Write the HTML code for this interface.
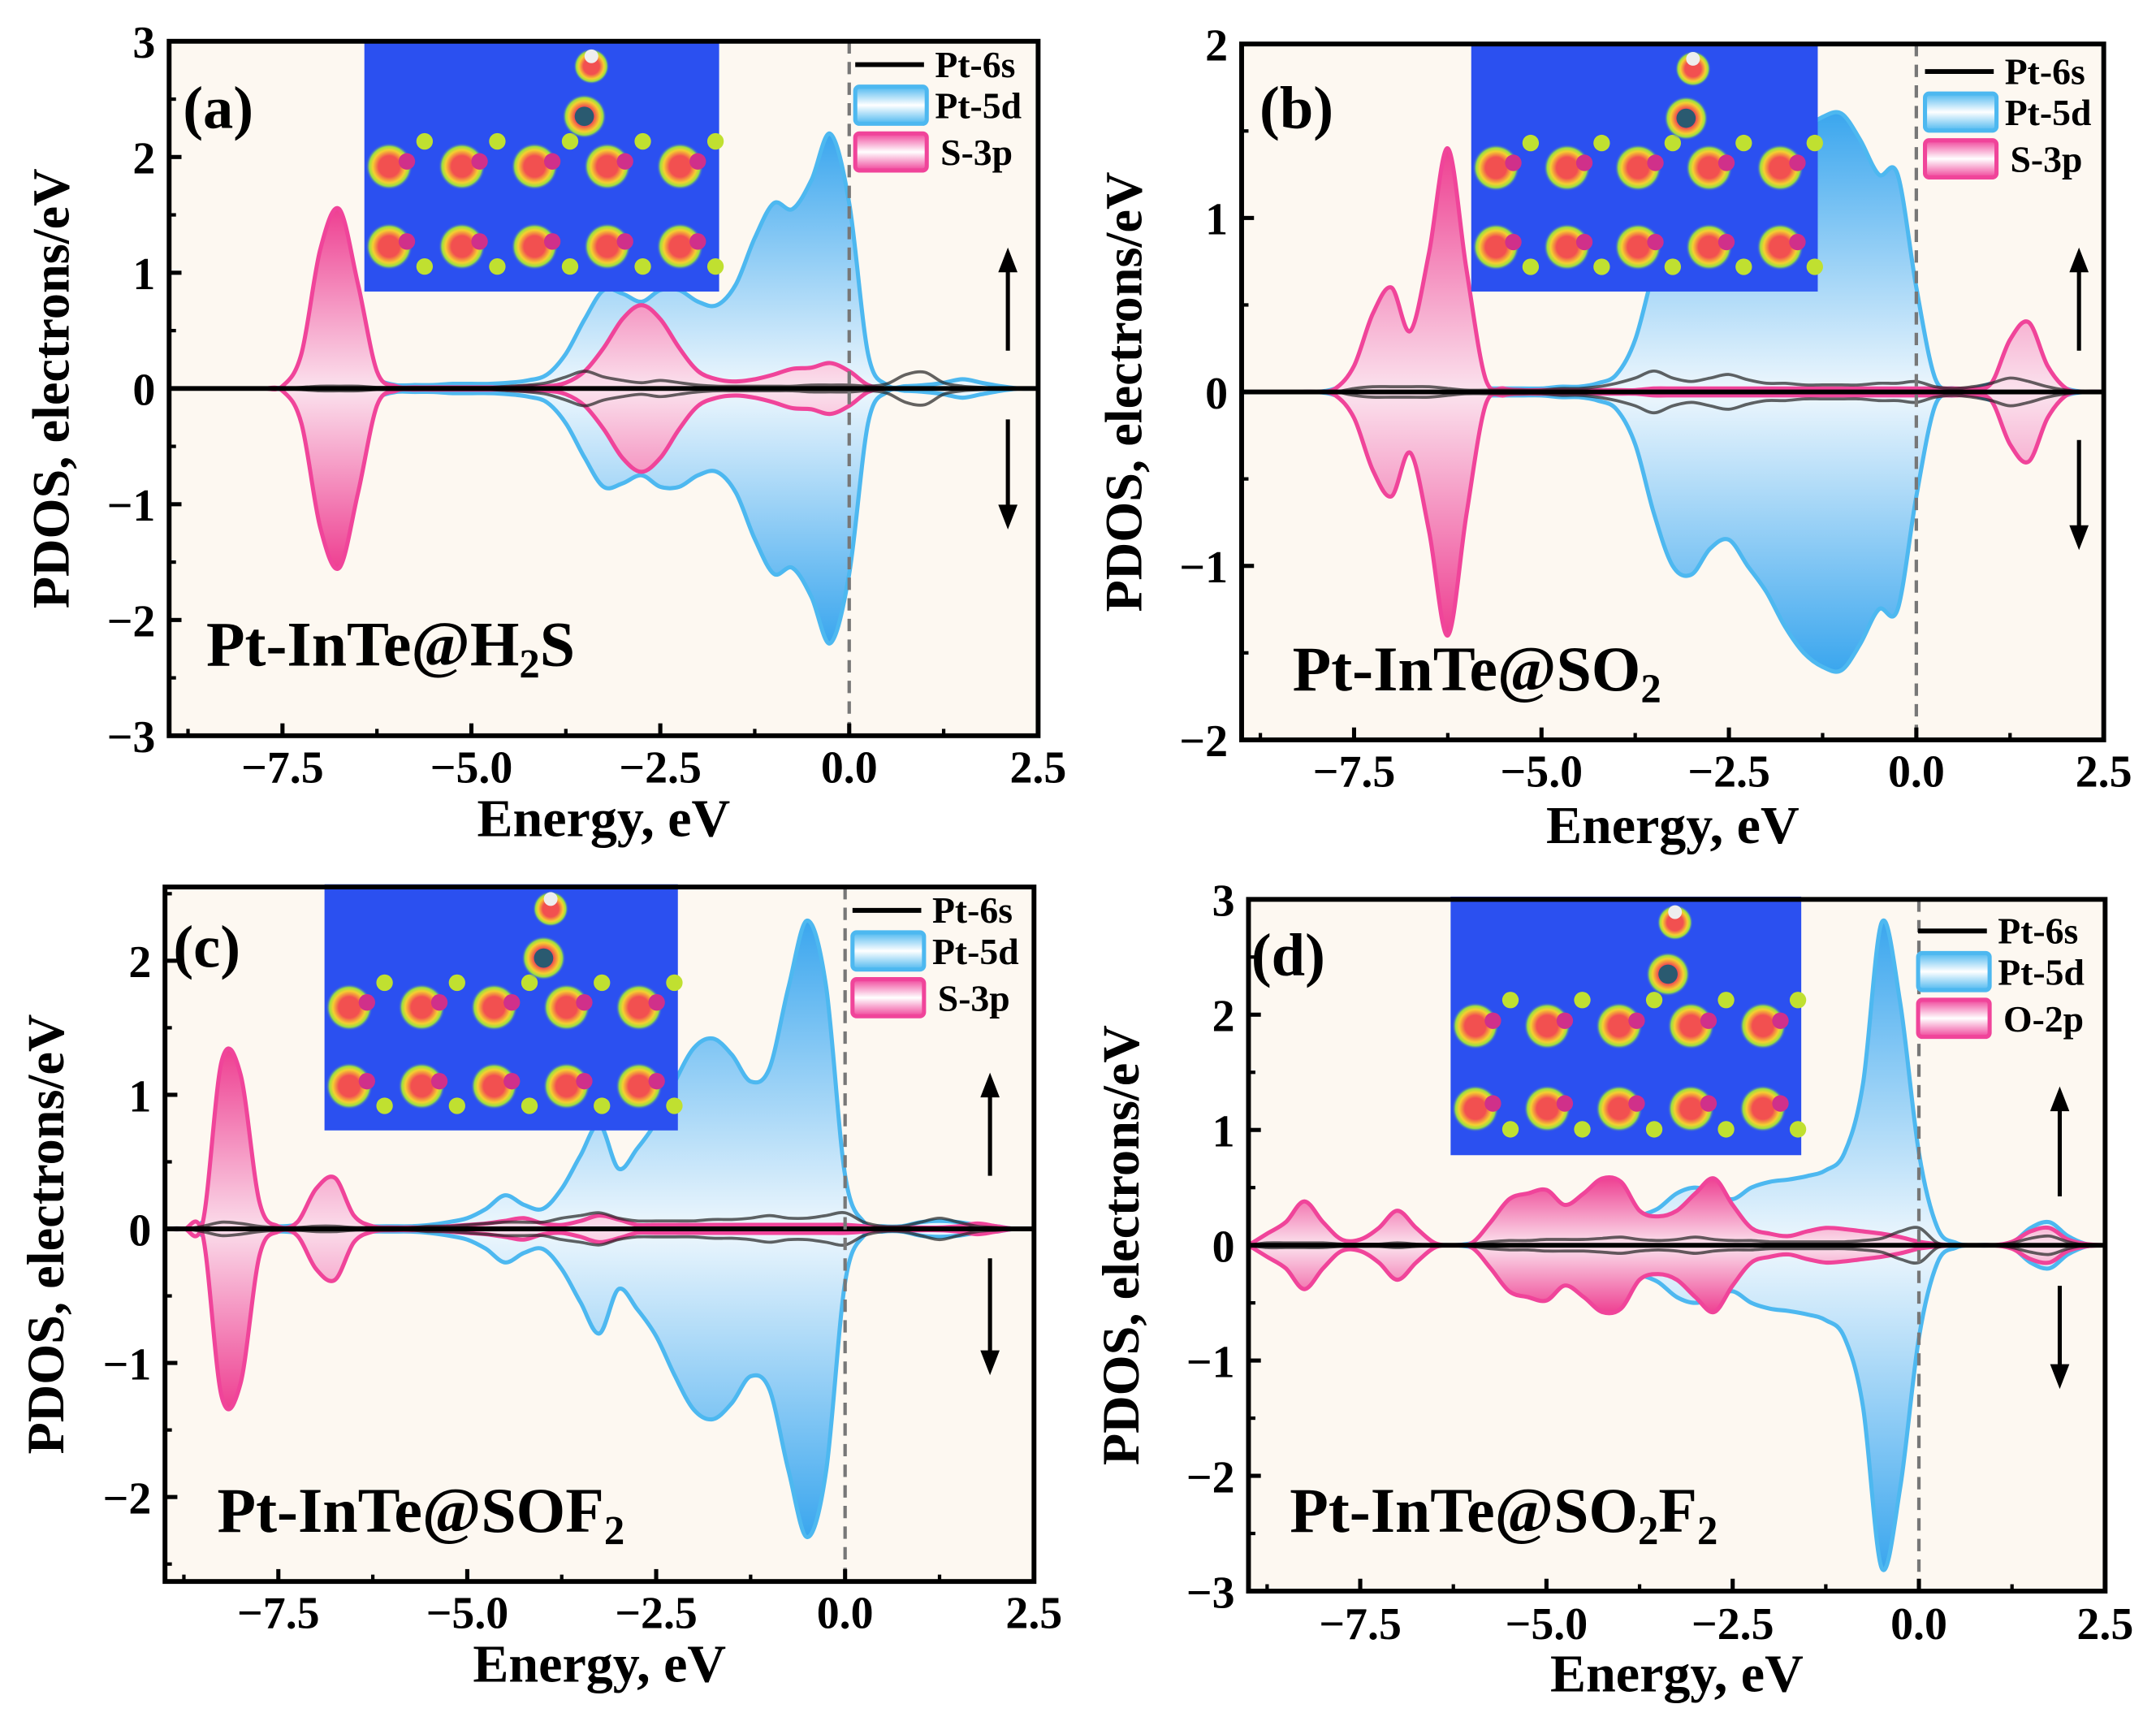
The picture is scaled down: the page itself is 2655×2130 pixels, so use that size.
<!DOCTYPE html>
<html><head><meta charset="utf-8">
<style>
html,body{margin:0;padding:0;background:#fff;}
svg{display:block;}
text{font-family:"Liberation Serif",serif;font-weight:bold;fill:#000;}
</style></head>
<body>
<svg id="fig" width="2655" height="2130" viewBox="0 0 1568 1258" preserveAspectRatio="none" xmlns="http://www.w3.org/2000/svg">
<defs>
<linearGradient id="blueUp" x1="0" y1="0" x2="0" y2="1"><stop offset="0" stop-color="#3aa6ee"/><stop offset="1" stop-color="#eef7fd"/></linearGradient>
<linearGradient id="blueDn" x1="0" y1="0" x2="0" y2="1"><stop offset="0" stop-color="#eef7fd"/><stop offset="1" stop-color="#3aa6ee"/></linearGradient>
<linearGradient id="pinkUp" x1="0" y1="0" x2="0" y2="1"><stop offset="0" stop-color="#ee3f91"/><stop offset="1" stop-color="#fbe3ee"/></linearGradient>
<linearGradient id="pinkDn" x1="0" y1="0" x2="0" y2="1"><stop offset="0" stop-color="#fbe3ee"/><stop offset="1" stop-color="#ee3f91"/></linearGradient>
<linearGradient id="legBlue" x1="0" y1="0" x2="0" y2="1"><stop offset="0" stop-color="#4db8f0"/><stop offset="0.5" stop-color="#ffffff"/><stop offset="1" stop-color="#4db8f0"/></linearGradient>
<linearGradient id="legPink" x1="0" y1="0" x2="0" y2="1"><stop offset="0" stop-color="#f0449a"/><stop offset="0.5" stop-color="#ffffff"/><stop offset="1" stop-color="#f0449a"/></linearGradient>
<radialGradient id="halo"><stop offset="0.45" stop-color="#f25050"/><stop offset="0.7" stop-color="#f5d030"/><stop offset="0.85" stop-color="#9be040"/><stop offset="1" stop-color="#2b50f0" stop-opacity="0"/></radialGradient>
</defs>
</svg>
<script>
// shared energy grid (eV)
const energy = [-9,-8.75,-8.5,-8.25,-8,-7.75,-7.5,-7.25,-7,-6.75,-6.5,-6.25,-6,-5.75,-5.5,-5.25,-5,-4.75,-4.5,-4.25,-4,-3.75,-3.5,-3.25,-3,-2.75,-2.5,-2.25,-2,-1.75,-1.5,-1.25,-1,-0.75,-0.5,-0.25,0,0.25,0.5,0.75,1,1.25,1.5,1.75,2,2.25,2.5];
const xTickValues = [-7.5,-5,-2.5,0,2.5];
const xTickLabels = ["\u22127.5","\u22125.0","\u22122.5","0.0","2.5"];
// panel (a) H2S
const pt5dA = [0,0,0,0,0,0,0.01,0.05,0.15,0.25,0.22,0.08,0.03,0.03,0.03,0.04,0.04,0.04,0.05,0.07,0.12,0.3,0.6,0.85,0.82,0.75,0.85,0.85,0.75,0.72,0.9,1.3,1.6,1.55,1.8,2.2,1.6,0.3,0.03,0.02,0.03,0.05,0.08,0.05,0.02,0,0];
const s3pA = [0,0,0,0,0,0,0.02,0.3,1.2,1.55,0.9,0.15,0.02,0.01,0.01,0.01,0.01,0.01,0.01,0.02,0.02,0.05,0.15,0.35,0.6,0.72,0.6,0.35,0.15,0.08,0.06,0.08,0.12,0.17,0.18,0.22,0.15,0.03,0,0,0,0,0,0,0,0,0];
const pt6sA = [0,0,0,0,0,0,0,0.01,0.02,0.02,0.02,0.01,0.01,0.01,0.01,0.01,0.01,0.01,0.02,0.03,0.05,0.1,0.15,0.1,0.07,0.05,0.07,0.05,0.03,0.02,0.02,0.02,0.02,0.02,0.03,0.03,0.03,0.02,0.04,0.12,0.14,0.05,0.02,0.01,0,0,0];
// panel (b) SO2
const pt5dB = [0,0,0,0,0,0.02,0.08,0.1,0.08,0.12,0.1,0.04,0.02,0.02,0.02,0.02,0.02,0.03,0.03,0.05,0.1,0.3,0.7,1.0,1.05,0.9,0.85,1.0,1.15,1.35,1.5,1.58,1.6,1.45,1.25,1.25,0.6,0.08,0.02,0.02,0.05,0.1,0.12,0.08,0.02,0,0];
const s3pB = [0,0,0,0,0,0.02,0.15,0.45,0.6,0.35,0.8,1.4,0.7,0.08,0.02,0.01,0.01,0.01,0.01,0.01,0.01,0.01,0.02,0.02,0.02,0.02,0.02,0.02,0.02,0.02,0.02,0.02,0.02,0.02,0.02,0.02,0.02,0.02,0.02,0.02,0.05,0.3,0.4,0.15,0.02,0,0];
const pt6sB = [0,0,0,0,0,0,0.02,0.03,0.03,0.03,0.03,0.02,0.01,0.01,0.01,0.01,0.01,0.02,0.02,0.03,0.05,0.08,0.12,0.08,0.06,0.08,0.1,0.07,0.05,0.05,0.04,0.04,0.04,0.04,0.05,0.05,0.06,0.03,0.02,0.03,0.05,0.08,0.06,0.03,0.01,0,0];
// panel (c) SOF2
const pt5dC = [0,0,0.05,0.15,0.12,0.05,0.02,0.03,0.06,0.05,0.03,0.02,0.02,0.02,0.03,0.05,0.08,0.15,0.25,0.18,0.15,0.3,0.55,0.78,0.45,0.6,0.8,1.1,1.35,1.42,1.3,1.1,1.2,1.8,2.3,1.8,0.4,0.05,0.02,0.02,0.05,0.06,0.05,0.03,0.02,0,0];
const s3pC = [0,0,0.05,1.25,1.15,0.2,0.02,0.05,0.3,0.38,0.1,0.02,0.01,0.01,0.01,0.02,0.03,0.04,0.06,0.08,0.04,0.03,0.06,0.1,0.07,0.03,0.03,0.03,0.03,0.03,0.03,0.03,0.03,0.03,0.03,0.03,0.03,0.02,0.01,0.01,0.01,0.01,0.02,0.04,0.02,0,0];
const pt6sC = [0,0,0.02,0.05,0.04,0.02,0.01,0.01,0.02,0.02,0.01,0.01,0.01,0.01,0.02,0.02,0.03,0.04,0.05,0.05,0.05,0.08,0.1,0.12,0.08,0.06,0.06,0.06,0.06,0.07,0.07,0.08,0.1,0.08,0.08,0.1,0.12,0.05,0.02,0.02,0.05,0.08,0.05,0.02,0.01,0,0];
// panel (d) SO2F2
const pt5dD = [0,0.05,0.05,0.03,0.02,0.02,0.01,0.01,0.02,0.01,0,0,0.02,0.1,0.15,0.12,0.1,0.1,0.08,0.1,0.15,0.25,0.32,0.45,0.5,0.45,0.4,0.5,0.55,0.57,0.6,0.65,0.8,1.4,2.8,2.1,0.8,0.15,0.02,0,0,0.02,0.15,0.2,0.08,0.01,0];
const o2pD = [0,0.1,0.2,0.38,0.2,0.05,0.05,0.15,0.3,0.15,0.02,0,0.02,0.2,0.4,0.45,0.48,0.35,0.45,0.58,0.55,0.3,0.25,0.3,0.45,0.58,0.35,0.15,0.1,0.08,0.12,0.15,0.14,0.12,0.1,0.07,0.03,0.01,0,0,0,0.03,0.12,0.15,0.05,0.01,0];
const pt6sD = [0,0.02,0.02,0.02,0.02,0.01,0.01,0.01,0.02,0.01,0,0,0.01,0.03,0.04,0.04,0.05,0.05,0.05,0.06,0.07,0.05,0.04,0.05,0.07,0.05,0.04,0.04,0.03,0.03,0.03,0.03,0.03,0.04,0.06,0.12,0.15,0.02,0,0,0,0.02,0.06,0.08,0.03,0,0];

const panels = [
 {id:'a',L:123,R:755,T:30,B:535,ymin:-3,ymax:3,yt:[-3,-2,-1,0,1,2,3],minorY:0.5,d5:pt5dA,p:s3pA,s:pt6sA,leg:'S-3p',title:['Pt-InTe@H','2','S',''],tag:'(a)',
  tagX:133,tagY:93,titleX:150,titleY:484,ylabX:50,xlabY:569,elabY:608,inset:[265,30,258,182],legX:622,legY:47,arrX:733,arrUp:[255,180],arrDn:[305,385]},
 {id:'b',L:903,R:1530,T:32,B:538,ymin:-2,ymax:2,yt:[-2,-1,0,1,2],minorY:0.5,d5:pt5dB,p:s3pB,s:pt6sB,leg:'S-3p',title:['Pt-InTe@SO','2','',''],tag:'(b)',
  tagX:916,tagY:93,titleX:940,titleY:502,ylabX:830,xlabY:572,elabY:613,inset:[1070,32,252,180],legX:1400,legY:52,arrX:1512,arrUp:[255,180],arrDn:[320,400]},
 {id:'c',L:120,R:752,T:645,B:1150,ymin:-2.63,ymax:2.55,yt:[-2,-1,0,1,2],minorY:0.5,d5:pt5dC,p:s3pC,s:pt6sC,leg:'S-3p',title:['Pt-InTe@SOF','2','',''],tag:'(c)',
  tagX:126,tagY:703,titleX:158,titleY:1114,ylabX:46,xlabY:1184,elabY:1223,inset:[236,643,257,179],legX:620,legY:662,arrX:720,arrUp:[855,780],arrDn:[915,1000]},
 {id:'d',L:908,R:1531,T:654,B:1157,ymin:-3,ymax:3,yt:[-3,-2,-1,0,1,2,3],minorY:0.5,d5:pt5dD,p:o2pD,s:pt6sD,leg:'O-2p',title:['Pt-InTe@SO','2','F','2'],tag:'(d)',
  tagX:910,tagY:709,titleX:938,titleY:1114,ylabX:828,xlabY:1192,elabY:1230,inset:[1055,652,255,188],legX:1395,legY:677,arrX:1498,arrUp:[870,790],arrDn:[935,1010]}
];
const NS='http://www.w3.org/2000/svg';
const svg=document.getElementById('fig');
function mk(tag,attrs,parent){const e=document.createElementNS(NS,tag);for(const k in attrs)e.setAttribute(k,attrs[k]);(parent||svg).appendChild(e);return e;}
function smooth(pts){let d='M'+pts[0][0].toFixed(1)+','+pts[0][1].toFixed(1);
 for(let i=0;i<pts.length-1;i++){const p0=pts[Math.max(i-1,0)],p1=pts[i],p2=pts[i+1],p3=pts[Math.min(i+2,pts.length-1)];
  const c1=[p1[0]+(p2[0]-p0[0])/6,p1[1]+(p2[1]-p0[1])/6],c2=[p2[0]-(p3[0]-p1[0])/6,p2[1]-(p3[1]-p1[1])/6];
  d+=' C'+c1[0].toFixed(1)+','+c1[1].toFixed(1)+' '+c2[0].toFixed(1)+','+c2[1].toFixed(1)+' '+p2[0].toFixed(1)+','+p2[1].toFixed(1);}
 return d;}
panels.forEach(P=>{
 const g=mk('g',{});
 
 
 const xs=e=>P.L+(e+9)/11.5*(P.R-P.L);
 const ys=v=>P.B-(v-P.ymin)/(P.ymax-P.ymin)*(P.B-P.T);
 const y0=ys(0);
 const bg=mk('rect',{x:P.L,y:P.T,width:P.R-P.L,height:P.B-P.T,fill:'#fdf8f1'},g);
 
 
 function area(vals,sign,fill,stroke,name){
  const pts=energy.map((e,i)=>[xs(e),ys(sign*vals[i])]);
  const line=smooth(pts);
  const a=mk('path',{d:line+' L'+xs(2.5)+','+y0+' L'+xs(-9)+','+y0+' Z',fill:fill,stroke:'none'},g);
  
  
  const l=mk('path',{d:line,fill:'none',stroke:stroke,'stroke-width':3},g);
  
  
 }
 area(P.d5,1,'url(#blueUp)','#4db8f0','pt5d-up');
 area(P.d5,-1,'url(#blueDn)','#4db8f0','pt5d-down');
 area(P.p,1,'url(#pinkUp)','#f0449a','pink-up');
 area(P.p,-1,'url(#pinkDn)','#f0449a','pink-down');
 [1,-1].forEach(sg=>{
  const pts=energy.map((e,i)=>[xs(e),ys(sg*P.s[i])]);
  const l=mk('path',{d:smooth(pts),fill:'none',stroke:'#222','stroke-width':2.2,'stroke-opacity':0.7},g);
  
  
 });
 const zl=mk('line',{x1:P.L,x2:P.R,y1:y0,y2:y0,stroke:'#000','stroke-width':3.5},g);
 
 
 const fl=mk('line',{x1:xs(0),x2:xs(0),y1:P.T,y2:P.B,stroke:'#777','stroke-width':2.5,'stroke-dasharray':'9,6'},g);
 
 
 // inset
 const [ix,iy,iw,ih]=P.inset;
 const ig=mk('g',{},g);
 
 
 mk('rect',{x:ix,y:iy,width:iw,height:ih,fill:'#2b50f0'},ig);
 for(let r=0;r<2;r++)for(let c=0;c<5;c++){
  const cx=ix+18+c*iw*0.205, cy=iy+ih*0.5+r*ih*0.32;
  mk('circle',{cx:cx,cy:cy,r:17,fill:'url(#halo)'},ig);
  mk('circle',{cx:cx+iw*0.1,cy:cy-ih*0.1+r*ih*0.18,r:6,fill:'#c0e030'},ig);
  mk('circle',{cx:cx+iw*0.05,cy:cy-ih*0.02,r:6,fill:'#d0308a'},ig);
 }
 mk('circle',{cx:ix+iw*0.62,cy:iy+ih*0.3,r:16,fill:'url(#halo)'},ig);
 mk('circle',{cx:ix+iw*0.62,cy:iy+ih*0.3,r:7,fill:'#2a5a70'},ig);
 mk('circle',{cx:ix+iw*0.64,cy:iy+ih*0.1,r:13,fill:'url(#halo)'},ig);
 mk('circle',{cx:ix+iw*0.64,cy:iy+ih*0.06,r:5,fill:'#eeeeee'},ig);
 // frame
 const fr=mk('rect',{x:P.L,y:P.T,width:P.R-P.L,height:P.B-P.T,fill:'none',stroke:'#000','stroke-width':3.5},g);
 
 
 // x ticks
 xTickValues.forEach((v,i)=>{
  mk('line',{x1:xs(v),x2:xs(v),y1:P.B,y2:P.B-9,stroke:'#000','stroke-width':3},g);
  const t=mk('text',{x:xs(v),y:P.xlabY,'font-size':33,'text-anchor':'middle'},g);
  t.textContent=xTickLabels[i];
  
  
 });
 for(let v=-8.75;v<2.5;v+=1.25){if(xTickValues.indexOf(v)<0)mk('line',{x1:xs(v),x2:xs(v),y1:P.B,y2:P.B-5,stroke:'#000','stroke-width':2.5},g);}
 P.yt.forEach(v=>{
  mk('line',{x1:P.L,x2:P.L+9,y1:ys(v),y2:ys(v),stroke:'#000','stroke-width':3},g);
  const t=mk('text',{x:P.L-10,y:ys(v)+12,'font-size':33,'text-anchor':'end'},g);
  t.textContent=v<0?'\u2212'+(-v):String(v);
  
  
 });
 for(let v=Math.ceil(P.ymin*2)/2;v<=P.ymax;v+=P.minorY){if(Math.abs(v-Math.round(v))>0.1)mk('line',{x1:P.L,x2:P.L+5,y1:ys(v),y2:ys(v),stroke:'#000','stroke-width':2.5},g);}
 const xl=mk('text',{x:(P.L+P.R)/2,y:P.elabY,'font-size':39,'text-anchor':'middle'},g);
 xl.textContent='Energy, eV';
 
 
 const yl=mk('text',{x:P.ylabX,y:(P.T+P.B)/2,'font-size':38,'text-anchor':'middle',transform:'rotate(-90 '+P.ylabX+' '+(P.T+P.B)/2+')'},g);
 yl.textContent='PDOS, electrons/eV';
 
 
 const tg=mk('text',{x:P.tagX,y:P.tagY,'font-size':44},g);
 tg.textContent=P.tag;
 
 
 const ti=mk('text',{x:P.titleX,y:P.titleY,'font-size':46},g);
 
 
 const t1=mk('tspan',{},ti);t1.textContent=P.title[0];
 const t2=mk('tspan',{'font-size':30,dy:9},ti);t2.textContent=P.title[1];
 if(P.title[2]){const t3=mk('tspan',{dy:-9},ti);t3.textContent=P.title[2];}
 if(P.title[3]){const t4=mk('tspan',{'font-size':30,dy:9},ti);t4.textContent=P.title[3];}
 // legend
 const lg=mk('g',{},g);
 
 
 const lx=P.legX,ly=P.legY;
 mk('line',{x1:lx,x2:lx+50,y1:ly,y2:ly,stroke:'#000','stroke-width':3.5},lg);
 const l1=mk('text',{x:lx+58,y:ly+9,'font-size':27},lg);l1.textContent='Pt-6s';
 mk('rect',{x:lx,y:ly+16,width:52,height:27,rx:3,fill:'url(#legBlue)',stroke:'#4db8f0','stroke-width':3},lg);
 const l2=mk('text',{x:lx+58,y:ly+39,'font-size':27},lg);l2.textContent='Pt-5d';
 mk('rect',{x:lx,y:ly+50,width:52,height:27,rx:3,fill:'url(#legPink)',stroke:'#f0449a','stroke-width':3},lg);
 const l3=mk('text',{x:lx+62,y:ly+73,'font-size':27},lg);l3.textContent=P.leg;
 // spin arrows
 [[P.arrUp[0],P.arrUp[1]],[P.arrDn[0],P.arrDn[1]]].forEach((a,k)=>{
  const ag=mk('g',{},g);
  
  
  const dir=a[1]<a[0]?-1:1;
  mk('line',{x1:P.arrX,x2:P.arrX,y1:a[0],y2:a[1]-dir*14,stroke:'#000','stroke-width':3},ag);
  mk('polygon',{points:(P.arrX-7)+','+(a[1]-dir*18)+' '+(P.arrX+7)+','+(a[1]-dir*18)+' '+P.arrX+','+a[1],fill:'#000'},ag);
 });
});
</script>
</body></html>
